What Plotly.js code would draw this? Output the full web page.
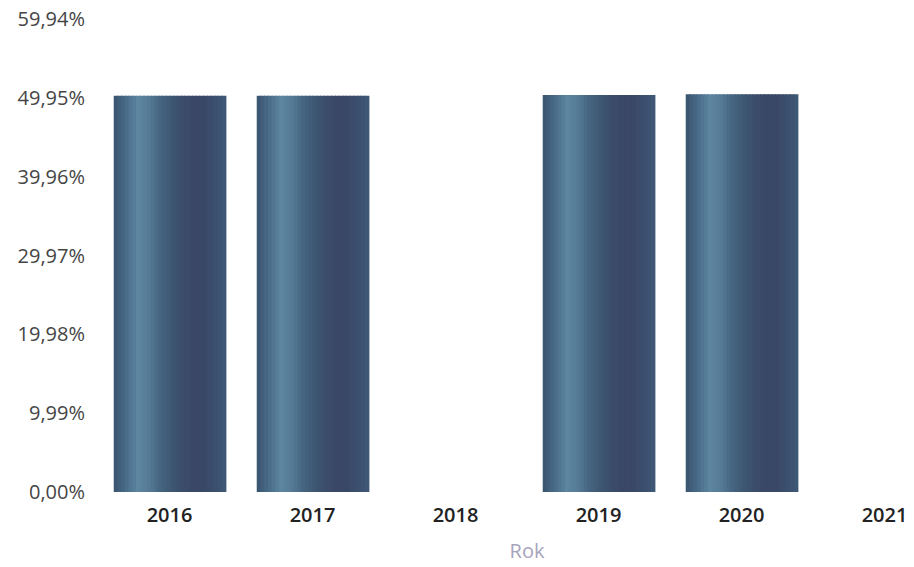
<!DOCTYPE html>
<html>
<head>
<meta charset="utf-8">
<script src="https://cdn.plot.ly/plotly-3.0.1.min.js"></script>
<style>
html,body{margin:0;padding:0;overflow:hidden;background:#fff;}
#chart{width:958px;height:567px;}
</style>
</head>
<body>
<div id="chart"></div>
<script>
// Data
var years = ['2016', '2017', '2018', '2019', '2020', '2021'];
var shareValues = [50.2, 50.2, null, 50.3, 50.4, null];
var yTickValues = [0, 9.99, 19.98, 29.97, 39.96, 49.95, 59.94];
var yTickLabels = ['0,00%', '9,99%', '19,98%', '29,97%', '39,96%', '49,95%', '59,94%'];

// Style: key colours of the cylinder-like shading, left to right
var keyColors = [[0x3c,0x57,0x72],[0x4a,0x6d,0x8a],[0x5e,0x86,0xa1],[0x55,0x7a,0x96],[0x45,0x65,0x80],
                 [0x3e,0x58,0x73],[0x3b,0x4d,0x6a],[0x3a,0x47,0x66],[0x3a,0x48,0x67],[0x3c,0x50,0x6e],[0x3e,0x5a,0x78]];
var stripsPerSegment = 3;
var stripColors = [];
for (var k = 0; k < keyColors.length - 1; k++) {
  for (var s = 0; s < stripsPerSegment; s++) {
    var t = s / stripsPerSegment, a = keyColors[k], b = keyColors[k + 1];
    stripColors.push('rgb(' + [0,1,2].map(function (j) { return Math.round(a[j] + (b[j] - a[j]) * t); }).join(',') + ')');
  }
}
var barWidth = 0.78;
var n = stripColors.length;
var sw = barWidth / n;
var traces = stripColors.map(function (c, i) {
  return {
    type: 'bar',
    x: years,
    y: shareValues,
    width: sw * 1.3,
    offset: -barWidth / 2 + i * sw,
    marker: {color: c, line: {width: 0}},
    hoverinfo: 'x+y',
    showlegend: false
  };
});

var layout = {
  width: 958,
  height: 567,
  margin: {l: 98, r: 2, t: 19, b: 75},
  paper_bgcolor: '#ffffff',
  plot_bgcolor: '#ffffff',
  barmode: 'overlay',
  font: {family: 'Open Sans, Noto Sans, sans-serif', color: '#333'},
  xaxis: {
    type: 'category',
    range: [-0.5, 5.5],
    showgrid: false,
    zeroline: false,
    showline: false,
    ticks: '',
    tickfont: {size: 20, color: '#222', weight: 600},
    ticklabelstandoff: 9,
    title: {text: 'Rok', font: {size: 20, color: '#a7a3bd'}, standoff: 16}
  },
  yaxis: {
    range: [0, 59.94],
    tickmode: 'array',
    tickvals: yTickValues,
    ticktext: yTickLabels,
    showgrid: false,
    zeroline: false,
    showline: false,
    ticks: '',
    tickfont: {size: 20, color: '#454545', weight: 500},
    ticklabelstandoff: 12
  }
};

Plotly.newPlot('chart', traces, layout, {displayModeBar: false, staticPlot: true});
</script>
</body>
</html>
